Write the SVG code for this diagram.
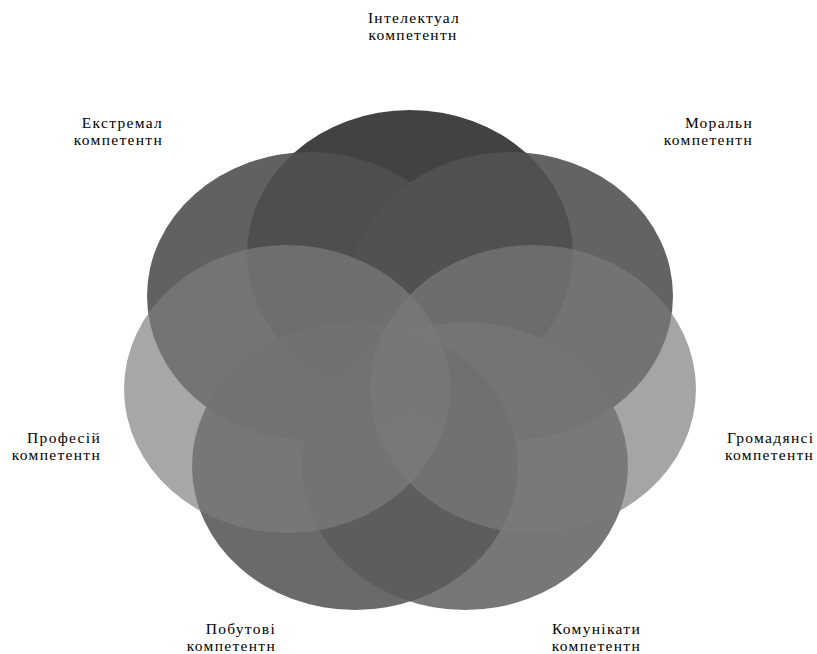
<svg xmlns="http://www.w3.org/2000/svg" width="817" height="654" viewBox="0 0 817 654">
<style>
  .lbl { font-family: "Liberation Serif", "DejaVu Serif", "Noto Serif", serif; font-size: 15.5px; letter-spacing: 1.3px; fill: #000; }
  .e { stroke: none; }
</style>
<rect width="817" height="654" fill="#ffffff"/>
<g id="ellipses">
  <g id="n-intellectual"><ellipse class="e" cx="410" cy="254" rx="163" ry="144" fill="#424242"/></g>
  <g id="n-extremal"><ellipse class="e" cx="310" cy="296" rx="163" ry="144" fill="#505050" fill-opacity="0.9"/></g>
  <g id="n-moral"><ellipse class="e" cx="510" cy="296" rx="163" ry="144" fill="#525252" fill-opacity="0.9"/></g>
  <g id="n-communicative"><ellipse class="e" cx="465" cy="466" rx="163" ry="144" fill="#686868" fill-opacity="0.9"/></g>
  <g id="n-household"><ellipse class="e" cx="355" cy="466" rx="163" ry="144" fill="#5a5a5a" fill-opacity="0.9"/></g>
  <g id="n-professional"><ellipse class="e" cx="287" cy="389" rx="163" ry="144" fill="#7d7d7d" fill-opacity="0.68"/></g>
  <g id="n-civic"><ellipse class="e" cx="533" cy="389" rx="163" ry="144" fill="#7a7a7a" fill-opacity="0.68"/></g>
</g>
<g id="labels">
  <g id="l-intellectual">
    <text class="lbl" x="414" y="23" text-anchor="middle">Інтелектуал</text>
    <text class="lbl" x="413" y="40" text-anchor="middle">компетентн</text>
  </g>
  <g id="l-extremal">
    <text class="lbl" x="163" y="128" text-anchor="end">Екстремал</text>
    <text class="lbl" x="163" y="145" text-anchor="end">компетентн</text>
  </g>
  <g id="l-moral">
    <text class="lbl" x="753" y="128" text-anchor="end">Моральн</text>
    <text class="lbl" x="753" y="145" text-anchor="end">компетентн</text>
  </g>
  <g id="l-professional">
    <text class="lbl" x="101" y="443" text-anchor="end">Професій</text>
    <text class="lbl" x="101" y="460" text-anchor="end">компетентн</text>
  </g>
  <g id="l-civic">
    <text class="lbl" x="727" y="443">Громадянсі</text>
    <text class="lbl" x="725" y="460">компетентн</text>
  </g>
  <g id="l-household">
    <text class="lbl" x="276" y="634" text-anchor="end">Побутові</text>
    <text class="lbl" x="276" y="651" text-anchor="end">компетентн</text>
  </g>
  <g id="l-communicative">
    <text class="lbl" x="641" y="634" text-anchor="end">Комунікати</text>
    <text class="lbl" x="641" y="651" text-anchor="end">компетентн</text>
  </g>
</g>
</svg>
